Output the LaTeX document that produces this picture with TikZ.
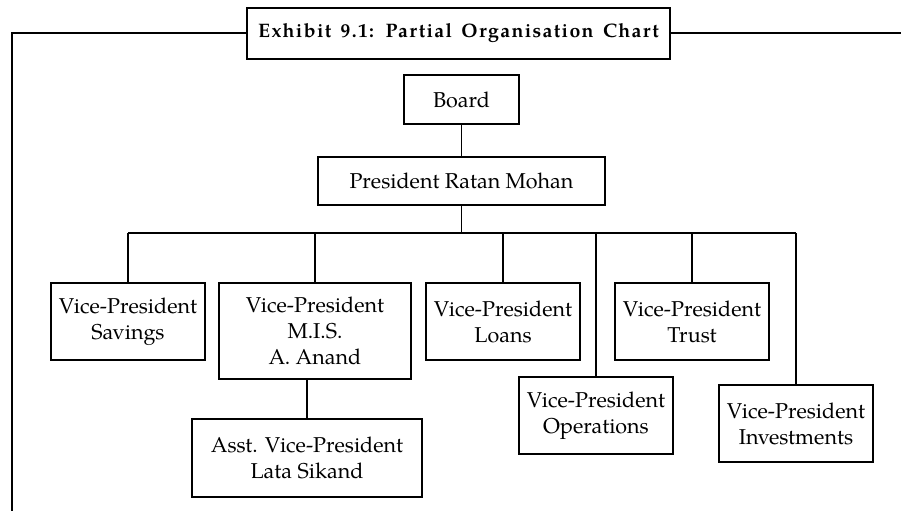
\documentclass[tikz,border=0pt]{standalone}
\usepackage{fontspec}
\setmainfont{texgyrepagella-regular.otf}[BoldFont=texgyrepagella-bold.otf]
\newfontfamily\exhibitfont{texgyrepagella-bold.otf}[LetterSpace=7,WordSpace=1.5]
\begin{document}
\begin{tikzpicture}[x=1pt,y=-1pt,
  box/.style={draw,line width=1.3pt,inner sep=0pt,align=center,
    font=\fontsize{21.5}{26}\selectfont},
  conn/.style={line width=1.3pt},
  frame/.style={line width=2pt}]
\useasboundingbox (0,0) rectangle (901,511);
\node[box,line width=2pt,minimum width=423pt,minimum height=51pt,
  font=\exhibitfont\fontsize{19.5}{23}\selectfont] (title) at (458.5,33.5)
  {Exhibit 9.1: Partial Organisation Chart};
\node[box,minimum width=115pt,minimum height=49pt] (board) at (461.5,99.5) {Board};
\node[box,minimum width=287pt,minimum height=48pt] (pres) at (461.5,181) {President Ratan Mohan};
\node[box,minimum width=154pt,minimum height=77pt] (sav) at (128,321.5) {Vice-President\\Savings};
\node[box,minimum width=192pt,minimum height=96pt] (mis) at (315,331) {Vice-President\\M.I.S.\\A. Anand};
\node[box,minimum width=230pt,minimum height=78pt] (asst) at (307,458) {Asst. Vice-President\\Lata Sikand};
\node[box,minimum width=154pt,minimum height=77pt] (loans) at (503,321.5) {Vice-President\\Loans};
\node[box,minimum width=154pt,minimum height=77pt] (ops) at (596,415.5) {Vice-President\\Operations};
\node[box,minimum width=154pt,minimum height=77pt] (trust) at (692,321.5) {Vice-President\\Trust};
\node[box,minimum width=154pt,minimum height=77pt] (inv) at (796,423.5) {Vice-President\\Investments};
\coordinate (bus) at (0,233);
\coordinate (fl) at (12,33.5);
\coordinate (fr) at (901,33.5);
\coordinate (fb) at (12,511);
% frame
\draw[frame] (title.west) -- (fl) -- (fb);
\draw[frame] (title.east) -- (fr);
% connectors
\draw[conn] (board.south) -- (pres.north);
\draw[conn] (pres.south) -- (pres.south |- bus);
\draw[conn] (sav.north |- bus) -- (inv.north |- bus);
\foreach \n in {sav,mis,loans,ops,trust,inv}
  \draw[conn] (\n.north |- bus) -- (\n.north);
\draw[conn] (asst.north |- mis.south) -- (asst.north);
\end{tikzpicture}
\end{document}
